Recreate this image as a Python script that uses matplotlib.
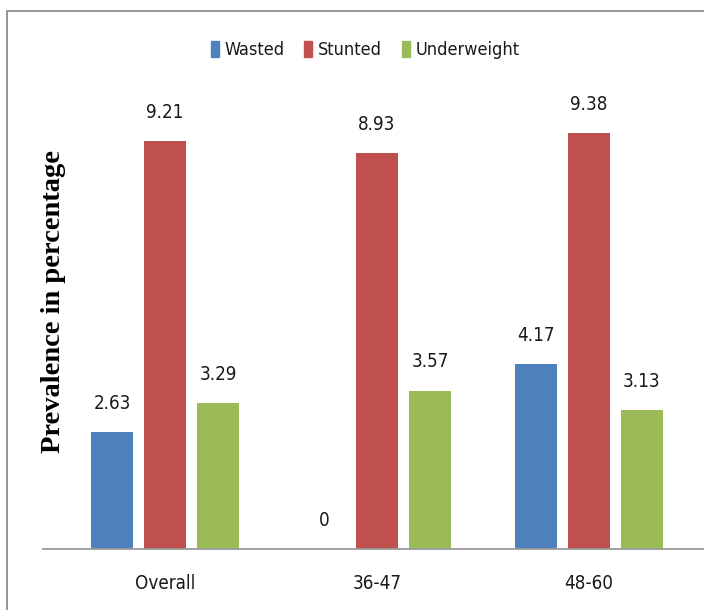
import matplotlib
matplotlib.use("Agg")
import matplotlib.pyplot as plt
from matplotlib.patches import Rectangle
import numpy as np

categories = ["Overall", "36-47", "48-60"]
series_names = ["Wasted", "Stunted", "Underweight"]
wasted = [2.63, 0, 4.17]
stunted = [9.21, 8.93, 9.38]
underweight = [3.29, 3.57, 3.13]
colors = ["#4F81BD", "#C0504D", "#9BBB59"]

plt.rcParams["font.family"] = ["DejaVu Sans"]
plt.rcParams["font.stretch"] = "condensed"

W, H = 704, 610
fig = plt.figure(figsize=(W / 100, H / 100), dpi=100)

# outer chart border
fig.patches.append(Rectangle((7 / W, -0.02), 1.1, 1 - 11 / H + 0.02,
                             transform=fig.transFigure, fill=False,
                             edgecolor="#8c8c8c", linewidth=1.3))

ax = fig.add_axes([43 / W, 61 / H, (W - 43) / W, 443 / H])
ax.set_ylim(0, 10)
ax.set_xlim(-122 / 212, (W - 165) / 212)

x = np.arange(len(categories))
pitch = 0.25
width = 0.198
for i, (vals, name, c) in enumerate(zip([wasted, stunted, underweight], series_names, colors)):
    pos = x + (i - 1) * pitch
    ax.bar(pos, vals, width=width, color=c, label=name, zorder=2)
    for xp, v in zip(pos, vals):
        ax.annotate(f"{v:g}" if v == 0 else f"{v:.2f}", (xp, v), xytext=(0, 14),
                    textcoords="offset points", ha="center", va="bottom",
                    fontsize=13.5, color="#1a1a1a")

for s in ["left", "right", "top"]:
    ax.spines[s].set_visible(False)
ax.spines["bottom"].set_color("#9a9a9a")
ax.spines["bottom"].set_linewidth(1.3)
ax.set_yticks([])
ax.set_xticks(x)
ax.set_xticklabels(categories, fontsize=13.5, color="#1a1a1a")
ax.tick_params(axis="x", length=0, pad=18)

fig.text(53 / W, 1 - 301 / H, "Prevalence in percentage", rotation=90,
         ha="center", va="center", fontsize=20.5, fontweight="bold",
         fontstretch="normal", family=["Liberation Serif"], color="black")

handles = [Rectangle((0, 0), 1, 1, color=c) for c in colors]
fig.legend(handles, series_names, loc="center", bbox_to_anchor=(365 / W, 1 - 50 / H),
           ncol=3, frameon=False, fontsize=13, handlelength=0.45, handleheight=1.0,
           handletextpad=0.3, columnspacing=1.1, labelcolor="#1a1a1a")

fig.savefig("out.png", dpi=100)
